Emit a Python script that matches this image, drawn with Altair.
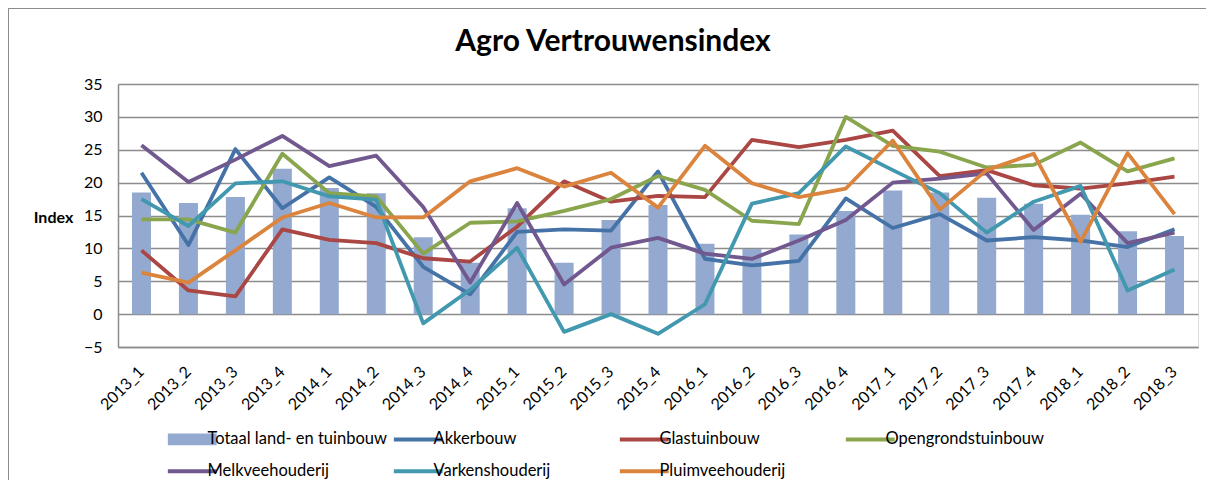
import altair as alt
import pandas as pd

periods = ["2013_1", "2013_2", "2013_3", "2013_4", "2014_1", "2014_2", "2014_3", "2014_4",
           "2015_1", "2015_2", "2015_3", "2015_4", "2016_1", "2016_2", "2016_3", "2016_4",
           "2017_1", "2017_2", "2017_3", "2017_4", "2018_1", "2018_2", "2018_3"]

totaal = [18.5, 16.9, 17.8, 22.1, 19.2, 18.4, 11.7, 7.8, 16.1, 7.8, 14.3, 16.6,
          10.7, 9.9, 12.1, 15.7, 18.8, 18.5, 17.7, 16.8, 15.1, 12.6, 11.9]
akkerbouw = [21.5, 10.5, 25.1, 16.1, 20.8, 16.3, 7.2, 3.0, 12.5, 12.9, 12.7, 21.7,
             8.4, 7.4, 8.1, 17.6, 13.1, 15.2, 11.2, 11.7, 11.2, 10.2, 12.9]
glastuinbouw = [9.7, 3.6, 2.7, 12.9, 11.3, 10.8, 8.5, 8.0, 13.3, 20.2, 17.1, 18.0,
                17.8, 26.5, 25.4, 26.5, 27.9, 21.0, 21.9, 19.6, 19.1, 19.9, 20.9]
opengrond = [14.4, 14.4, 12.4, 24.4, 18.4, 17.9, 9.2, 13.9, 14.1, 15.7, 17.5, 21.0,
             18.9, 14.2, 13.7, 30.0, 25.6, 24.7, 22.3, 22.7, 26.1, 21.7, 23.7]
melkvee = [25.7, 20.1, 23.5, 27.1, 22.5, 24.1, 16.3, 4.8, 16.9, 4.5, 10.1, 11.6,
           9.2, 8.4, 11.2, 14.3, 20.0, 20.6, 21.4, 12.8, 18.3, 10.8, 12.4]
varkens = [17.5, 13.4, 19.9, 20.2, 17.9, 17.4, -1.4, 3.7, 10.1, -2.7, 0.0, -3.0,
           1.5, 16.8, 18.4, 25.5, 21.9, 18.4, 12.4, 17.1, 19.5, 3.6, 6.8]
pluimvee = [6.3, 4.8, 9.7, 14.7, 16.9, 14.7, 14.7, 20.2, 22.2, 19.4, 21.5, 16.2,
            25.6, 19.9, 17.8, 19.1, 26.4, 15.9, 21.9, 24.4, 11.0, 24.5, 15.2]

y_ticks = [-5, 0, 5, 10, 15, 20, 25, 30, 35]

bar_name = "Totaal land- en tuinbouw"
line_names = ["Akkerbouw", "Glastuinbouw", "Opengrondstuinbouw",
              "Melkveehouderij", "Varkenshouderij", "Pluimveehouderij"]
line_values = [akkerbouw, glastuinbouw, opengrond, melkvee, varkens, pluimvee]
series_colors = ["#93A9CF", "#4572A7", "#AA4643", "#89A54E", "#71588F", "#4198AF", "#DB843D"]

bar_df = pd.DataFrame({"periode": periods, "index": totaal, "reeks": bar_name})
rows = []
for name, vals in zip(line_names, line_values):
    for p, v in zip(periods, vals):
        rows.append({"periode": p, "index": v, "reeks": name})
line_df = pd.DataFrame(rows)

FONT = "Lato"
domain = [bar_name] + line_names
is_bar = "datum.value === '" + bar_name + "'"

color_scale = alt.Scale(domain=domain, range=series_colors)
legend = alt.Legend(
    orient="none", legendX=66, legendY=347, columns=4, direction="horizontal",
    gridAlign="all", columnPadding=-2, rowPadding=15, padding=0, title=None,
    symbolSize=1970,
    symbolType=alt.ExprRef(is_bar + " ? 'M-1.1,-0.27H1.1V0.27H-1.1Z' : 'M-1.1,0H1.1'"),
    symbolStrokeWidth=alt.ExprRef(is_bar + " ? 0 : 4"),
    symbolFillColor=alt.ExprRef("scale('color', datum.value)"),
    symbolStrokeColor=alt.ExprRef("scale('color', datum.value)"),
    symbolOpacity=1,
    labelFont=FONT, labelFontSize=16.5,
    labelColor="#000000", labelLimit=400, labelOffset=7,
)

x_enc = alt.X("periode:N", sort=periods, title=None,
              scale=alt.Scale(paddingInner=0.6, paddingOuter=0.3),
              axis=alt.Axis(labelAngle=-45, labelAlign="right", labelBaseline="middle",
                            labelPadding=22, ticks=False, labelFont=FONT, labelFontSize=16,
                            labelColor="#000000", domainColor="#8c8c8c", domainWidth=1.5,
                            grid=False, labelOverlap=False))
y_enc = alt.Y("index:Q", title="Index",
              scale=alt.Scale(domain=[-5, 35], nice=False),
              axis=alt.Axis(values=y_ticks, ticks=False,
                            labelOverlap=False, labelSeparation=0,
                            labelPadding=16, labelFont=FONT, labelFontSize=16,
                            labelColor="#000000", domainColor="#8c8c8c", domainWidth=1.5,
                            gridColor="#8c8c8c", gridWidth=1.5,
                            titleAngle=0, titleFont=FONT, titleFontSize=16,
                            titleFontWeight="bold", titleColor="#000000",
                            titleX=-65, titleY=133, titleAlign="center",
                            titleBaseline="middle"))
color_enc = alt.Color("reeks:N", scale=color_scale, legend=legend)

bars = alt.Chart(bar_df).mark_bar(size=19).encode(x=x_enc, y=y_enc, color=color_enc)
lines = alt.Chart(line_df).mark_line(strokeWidth=3.8, strokeJoin="round").encode(
    x=x_enc, y=y_enc, color=color_enc)

frame_left = alt.Chart(bar_df).mark_rule(color="#8c8c8c", strokeWidth=1.5).encode(
    x=alt.value(-110), y=alt.value(-76), y2=alt.value(400))
frame_top = alt.Chart(bar_df).mark_rule(color="#8c8c8c", strokeWidth=1.5).encode(
    x=alt.value(-110), x2=alt.value(1100), y=alt.value(-76))

chart = alt.layer(bars, lines, frame_left, frame_top).properties(
    width=1080, height=263,
    title=alt.Title("Agro Vertrouwensindex", font=FONT, fontSize=30, fontWeight="bold",
                    color="#000000", anchor="middle", dx=-45, offset=-74,
                    baseline="alphabetic"),
    autosize=alt.AutoSizeParams(type="none"),
    padding={"left": 110, "top": 76, "right": 8, "bottom": 133},
).configure_view(stroke="transparent").configure_axis(labelOverlap=False).configure(
    background="white")

chart.save("out.html", embed_options={"renderer": "svg", "actions": False})
